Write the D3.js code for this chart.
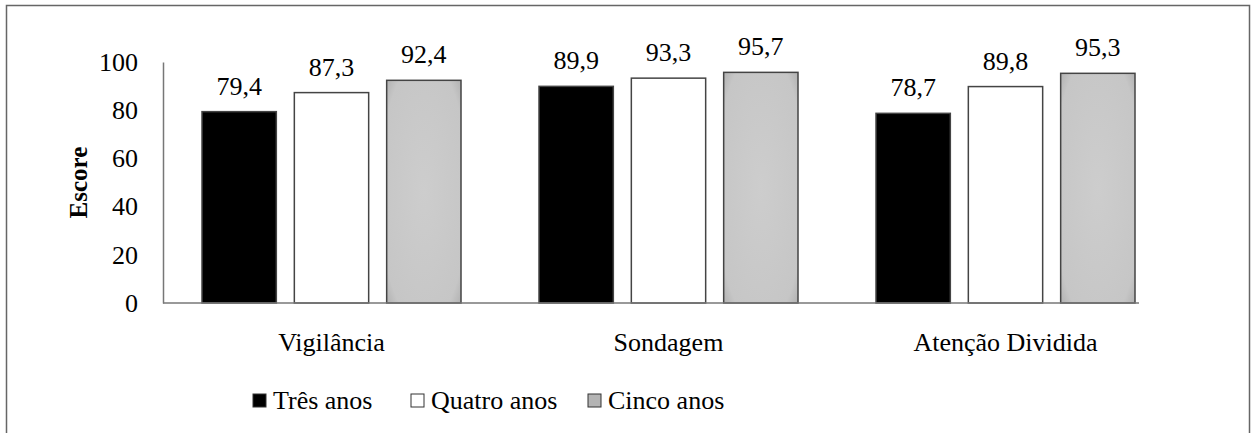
<!DOCTYPE html>
<html>
<head>
<meta charset="utf-8">
<script src="https://cdn.jsdelivr.net/npm/d3@7"></script>
</head>
<body style="margin:0">
<svg id="chart" width="1254" height="433"></svg>
<script>
// data
const categories = ["Vigilância", "Sondagem", "Atenção Dividida"];
const seriesNames = ["Três anos", "Quatro anos", "Cinco anos"];
const tresAnos = [79.4, 89.9, 78.7];
const quatroAnos = [87.3, 93.3, 89.8];
const cincoAnos = [92.4, 95.7, 95.3];
const yTicks = [0, 20, 40, 60, 80, 100];

const seriesValues = [tresAnos, quatroAnos, cincoAnos];
const fills = ["#000000", "#ffffff", "url(#grayFill)"];
const legendFills = ["#000000", "#ffffff", "#b4b4b4"];
const legendOffsets = [0, 158, 335];

const FONT = "Liberation Serif";
const margin = { top: 62, left: 163 };
const plotH = 241;
const bandStep = 337;

const svg = d3.select("#chart");

// gray bar gradient (slightly darker at the edges)
const grad = svg.append("defs").append("radialGradient")
    .attr("id", "grayFill").attr("cx", "50%").attr("cy", "50%").attr("r", "75%");
grad.append("stop").attr("offset", "0%").attr("stop-color", "#cdcdcd");
grad.append("stop").attr("offset", "80%").attr("stop-color", "#c6c6c6");
grad.append("stop").attr("offset", "100%").attr("stop-color", "#a9a9a9");

// outer frame
svg.append("rect")
    .attr("x", 6.5).attr("y", 5.5)
    .attr("width", 1243).attr("height", 460)
    .attr("fill", "none").attr("stroke", "#666").attr("stroke-width", 1.5);

const g = svg.append("g").attr("transform", `translate(${margin.left},${margin.top})`);

const x0 = d3.scaleBand()
    .domain(categories)
    .range([0, bandStep * categories.length]);

const x1 = d3.scaleBand()
    .domain(seriesNames)
    .range([39, x0.bandwidth() - 39])
    .paddingInner(0.195);

const y = d3.scaleLinear().domain([0, 100]).range([plotH, 0]);

// y axis
const yAxis = g.append("g")
    .call(d3.axisLeft(y).tickValues(yTicks).tickSize(0).tickPadding(25));
yAxis.select(".domain").attr("stroke", "#777").attr("stroke-width", 1.5);
yAxis.selectAll("text")
    .style("font-family", FONT)
    .style("font-size", "26px")
    .attr("fill", "black");

// bars
categories.forEach((cat, ci) => {
    seriesNames.forEach((s, si) => {
        const v = seriesValues[si][ci];
        const bx = x0(cat) + x1(s);
        g.append("rect")
            .attr("x", bx)
            .attr("y", y(v))
            .attr("width", x1.bandwidth())
            .attr("height", y(0) - y(v))
            .attr("fill", fills[si])
            .attr("stroke", "#444")
            .attr("stroke-width", 1.5);
        g.append("text")
            .attr("x", bx + x1.bandwidth() / 2)
            .attr("y", y(v) - 17)
            .attr("text-anchor", "middle")
            .style("font-family", FONT)
            .style("font-size", "26px")
            .text(v.toFixed(1).replace(".", ","));
    });
});

// x axis line (ends just after the last bar)
const xEnd = x0(categories[2]) + x1(seriesNames[2]) + x1.bandwidth() + 4;
g.append("line")
    .attr("x1", 0).attr("x2", xEnd)
    .attr("y1", y(0)).attr("y2", y(0))
    .attr("stroke", "#777").attr("stroke-width", 1.5);

// category labels
g.selectAll(".cat")
    .data(categories)
    .join("text")
    .attr("class", "cat")
    .attr("x", d => x0(d) + x0.bandwidth() / 2)
    .attr("y", y(0) + 48)
    .attr("text-anchor", "middle")
    .style("font-family", FONT)
    .style("font-size", "26px")
    .text(d => d);

// y axis title
svg.append("text")
    .attr("transform", `translate(${margin.left - 76},${margin.top + plotH / 2}) rotate(-90)`)
    .attr("text-anchor", "middle")
    .style("font-family", FONT)
    .style("font-size", "25px")
    .style("font-weight", "bold")
    .text("Escore");

// legend
const legend = svg.append("g").attr("transform", "translate(253,409)");
seriesNames.forEach((s, i) => {
    const item = legend.append("g").attr("transform", `translate(${legendOffsets[i]},0)`);
    item.append("rect")
        .attr("x", 0).attr("y", -15)
        .attr("width", 13).attr("height", 13)
        .attr("fill", legendFills[i])
        .attr("stroke", "#333").attr("stroke-width", 1);
    item.append("text")
        .attr("x", 20).attr("y", 0)
        .style("font-family", FONT)
        .style("font-size", "26px")
        .text(s);
});
</script>
</body>
</html>
